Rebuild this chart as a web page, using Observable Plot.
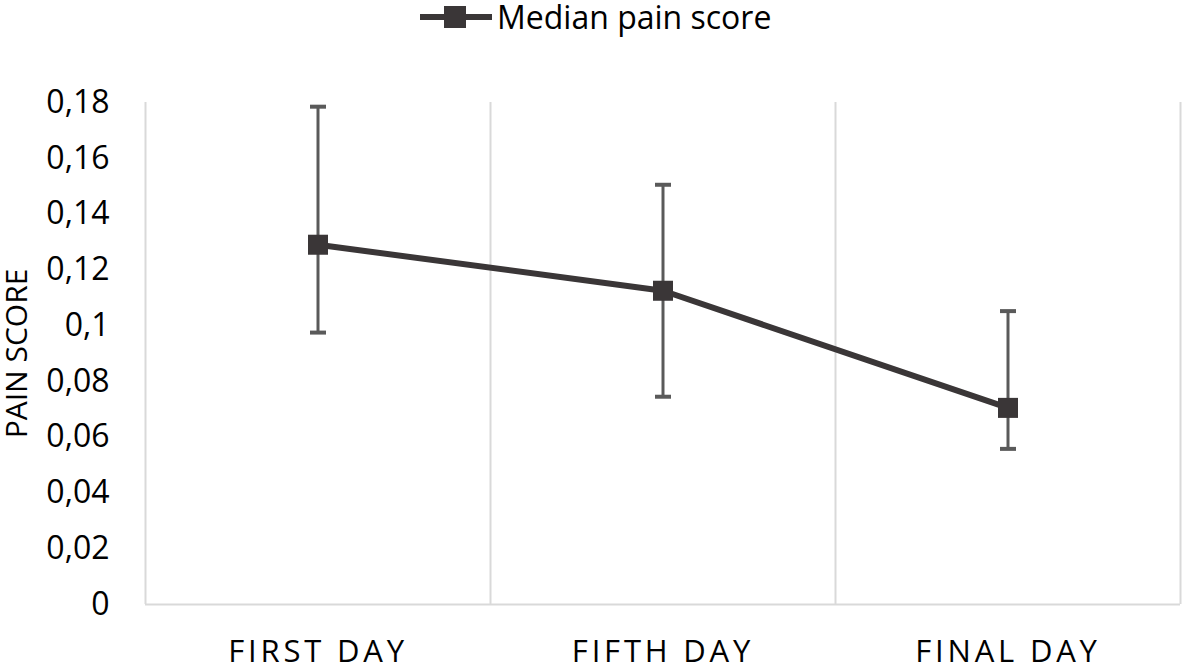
<!DOCTYPE html>
<html>
<head>
<meta charset="utf-8">
<script src="https://cdn.jsdelivr.net/npm/d3@7"></script>
<script src="https://cdn.jsdelivr.net/npm/@observablehq/plot@0.6"></script>
<style>
  body { margin: 0; background: #fff; font-family: "Open Sans", sans-serif; }
  #wrap { position: relative; width: 1183px; height: 664px; overflow: hidden; }
  #legend { position: absolute; left: 420px; top: 1px; display: flex; align-items: center; font-size: 32px; line-height: 32px; color: #000; white-space: nowrap; }
  #legend svg { margin-right: 5px; flex: none; }
  #chart { position: absolute; left: 0; top: 35px; }
  #chart g[aria-label="x-axis tick label"] text { letter-spacing: 3.8px; }
</style>
</head>
<body>
<div id="wrap">
  <div id="legend"></div>
  <div id="chart"></div>
</div>
<script>
const categories = ["FIRST DAY", "FIFTH DAY", "FINAL DAY"];
const medians = [0.129, 0.1125, 0.0705];
const upper = [0.1785, 0.1505, 0.1052];
const lower = [0.0975, 0.0745, 0.0558];
const yTicks = [0, 0.02, 0.04, 0.06, 0.08, 0.1, 0.12, 0.14, 0.16, 0.18];
const seriesName = "Median pain score";
const yLabel = "PAIN SCORE";

const data = categories.map((c, i) => ({cat: c, x: i + 0.5, y: medians[i], hi: upper[i], lo: lower[i]}));
const bounds = d3.range(categories.length + 1);

const lineColor = "#3a3637";
const errColor = "#5a5a5a";
const gridColor = "#d9d9d9";

const cap = { draw(ctx, size) { ctx.moveTo(-8, 0); ctx.lineTo(8, 0); } };

const fmt = d => String(d).replace(".", ",");

const chart = Plot.plot({
  width: 1183,
  height: 629,
  marginLeft: 145,
  marginRight: 3,
  marginTop: 67,
  marginBottom: 60,
  style: { fontFamily: "Open Sans, sans-serif", fontSize: "32px", color: "#000", background: "transparent" },
  x: { domain: [0, categories.length] },
  y: { domain: [0, 0.18] },
  marks: [
    Plot.ruleX(bounds, { x: d => d, y1: 0, y2: 0.18, stroke: gridColor, strokeWidth: 2 }),
    Plot.ruleY([0], { x1: 0, x2: categories.length, stroke: gridColor, strokeWidth: 2 }),
    Plot.axisY({ ticks: yTicks, tickFormat: fmt, tickSize: 0, tickPadding: 36, fontSize: 32, label: null }),
    Plot.text([yLabel], { frameAnchor: "left", textAnchor: "middle", dx: -128, rotate: -90, fontSize: 30, fill: "#000" }),
    Plot.axisX({ ticks: data.map(d => d.x), tickFormat: (d, i) => categories[i], tickSize: 0, tickPadding: 35, fontSize: 31, label: null }),
    Plot.ruleX(data, { x: "x", y1: "lo", y2: "hi", stroke: errColor, strokeWidth: 3 }),
    Plot.dot(data, { x: "x", y: "hi", symbol: cap, stroke: errColor, strokeWidth: 4, r: 8 }),
    Plot.dot(data, { x: "x", y: "lo", symbol: cap, stroke: errColor, strokeWidth: 4, r: 8 }),
    Plot.line(data, { x: "x", y: "y", stroke: lineColor, strokeWidth: 6 }),
    Plot.dot(data, { x: "x", y: "y", symbol: "square", r: 11.3, fill: lineColor, stroke: null })
  ]
});
document.getElementById("chart").appendChild(chart);

const leg = document.getElementById("legend");
leg.innerHTML = `<svg width="72" height="26"><line x1="0" y1="13" x2="72" y2="13" stroke="${lineColor}" stroke-width="6"/><rect x="24" y="2" width="22" height="22" fill="${lineColor}"/></svg><span>${seriesName}</span>`;
</script>
</body>
</html>
